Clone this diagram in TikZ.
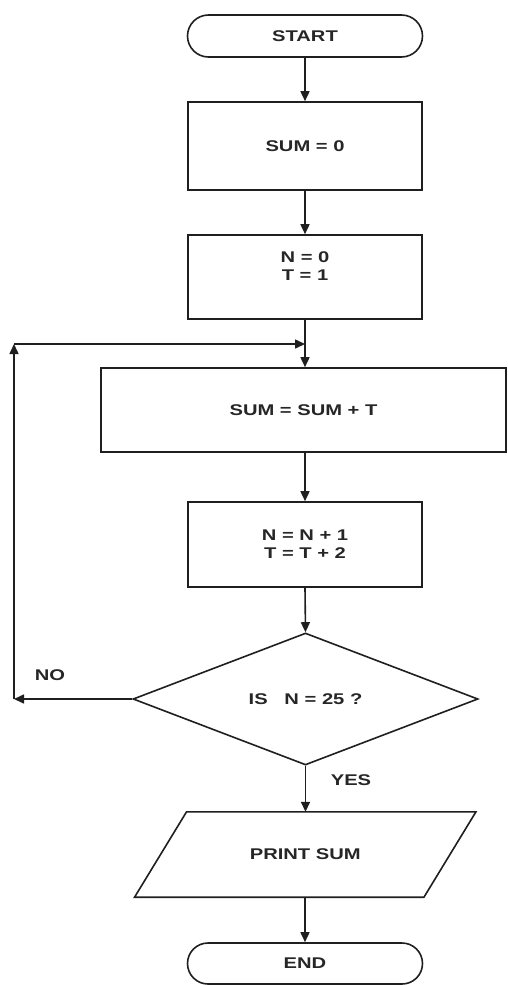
\documentclass[tikz,border=0pt]{standalone}
\usepackage{fontspec}
\newfontfamily\chartfont[FakeStretch=1.3]{Liberation Sans}
\usetikzlibrary{arrows.meta,shapes.geometric,shapes.misc}

\begin{document}
\begin{tikzpicture}[x=1pt,y=-1pt,
  every node/.style={font=\chartfont\bfseries\fontsize{15.5}{18}\selectfont, text=black!85},
  flowline/.style={line width=1.6pt, draw=black!88},
  arr/.style={flowline, -{Triangle[length=10pt,width=9pt]}},
  procbox/.style={rectangle, draw, flowline, minimum width=234pt, inner sep=0pt, align=center},
  termbox/.style={rounded rectangle, draw, flowline, minimum width=235pt, minimum height=42pt, inner sep=0pt},
  lbl/.style={inner sep=0pt}
]
\useasboundingbox (0,0) rectangle (508,985);

% terminals and process steps
\node[termbox] (start) at (305,36) {START};
\node[procbox, minimum height=88pt] (s0) at (305,146) {SUM = 0};
\node[procbox, minimum height=84pt,
      label={[name=initText, align=center, yshift=11pt]center:{N = 0\\T = 1}}] (init) at (305,277) {};
\node[procbox, minimum width=405pt, minimum height=84pt] (acc) at (303.5,410) {SUM = SUM + T};
\node[procbox, minimum height=85pt] (inc) at (305,544.5) {N = N + 1\\T = T + 2};

% decision
\node[diamond, draw, flowline, minimum width=345pt, minimum height=132pt, inner sep=0pt] (dec) at (305.5,699) {IS~~~N = 25 ?};

% output (parallelogram)
\node[minimum width=289pt, minimum height=85pt, inner sep=0pt] (pr) at (305.25,854.5) {PRINT SUM};
\draw[flowline] ([xshift=26pt]pr.north west) -- ([xshift=26pt]pr.north east)
  -- ([xshift=-26pt]pr.south east) -- ([xshift=-26pt]pr.south west) -- cycle;

\node[termbox, minimum height=41pt] (end) at (305,963.5) {END};

% loop-back points
\coordinate (join) at (305,344);
\coordinate (lpBottom) at (14,699);
\coordinate (lpTop) at (14,344);

% connectors
\draw[arr] (start.south) -- (s0.north);
\draw[arr] (s0.south) -- (init.north);
\draw[arr] (init.south) -- (init.south |- acc.north);
\draw[arr] (acc.south -| inc.north) -- (inc.north);
\draw[arr] (inc.south) -- (dec.north);
\draw[arr] (dec.west) -- (lpBottom);
\draw[arr] (lpBottom) -- (lpTop);
\draw[arr] (lpTop) -- (join);
\draw[arr] (dec.south) -- (dec.south |- pr.north);
\draw[arr] (pr.south -| end.north) -- (end.north);

% branch labels
\node[lbl] (noLbl) at (50,675) {NO};
\node[lbl] (yesLbl) at (351,780) {YES};
\end{tikzpicture}
\end{document}
